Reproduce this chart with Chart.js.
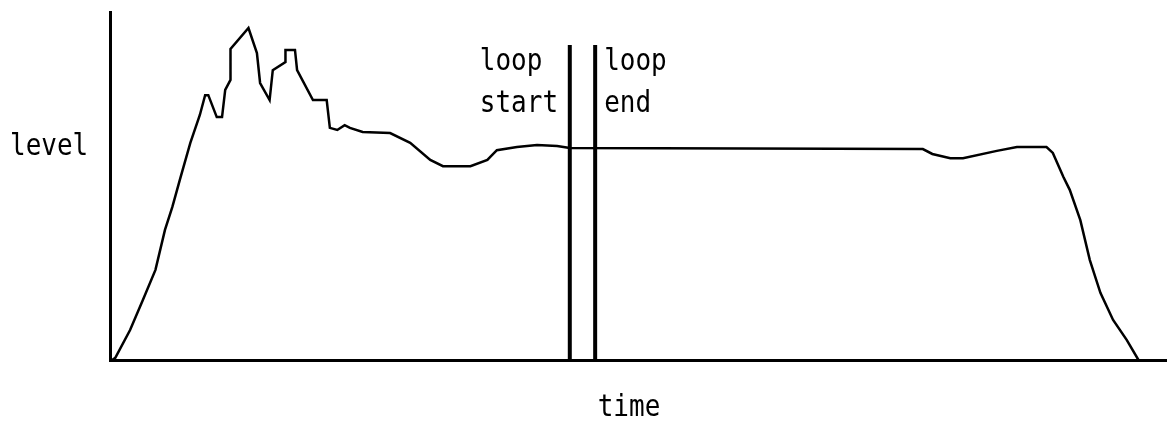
<!DOCTYPE html>
<html>
<head>
<meta charset="utf-8">
<script src="https://cdn.jsdelivr.net/npm/chart.js@4"></script>
<style>
  html, body { margin: 0; padding: 0; background: #fff; }
  #wrap { width: 1167px; height: 424px; position: relative; }
</style>
</head>
<body>
<div id="wrap"><canvas id="myChart"></canvas></div>
<script>
// envelope of the sound level over time (arbitrary units, 0-100)
const timeValues = [0.2, 0.5, 1.9, 3.1, 4.3, 5.2, 5.9, 6.6, 7.6, 8.5, 9.0, 9.3, 10.1, 10.6, 10.9, 11.4, 11.4,
    13.1, 13.9, 14.2, 15.1, 15.4, 16.6, 16.6, 17.5, 17.7, 19.2, 20.5, 20.8, 21.5, 22.2, 22.7, 23.9,
    26.5, 28.4, 30.3, 31.5, 34.1, 35.7, 36.6, 38.5, 40.4, 42.3, 43.5, 76.9, 77.8, 79.5, 80.7, 83.9,
    85.8, 88.6, 89.2, 90.2, 90.8, 91.8, 92.7, 93.7, 94.9, 96.2, 97.3];
const levelValues = [0, 0.6, 8.6, 17.2, 25.9, 37.4, 44.0, 51.7, 62.4, 70.4, 76.1, 76.1, 69.8, 69.8, 77.6, 80.5, 89.4,
    95.4, 88.2, 79.6, 74.7, 83.3, 85.6, 89.1, 89.1, 83.3, 74.7, 74.7, 66.7, 66.1, 67.5, 66.7, 65.5,
    65.2, 62.4, 57.5, 55.7, 55.7, 57.5, 60.3, 61.2, 61.8, 61.5, 60.9, 60.6, 59.2, 58.0, 58.0, 60.1,
    61.2, 61.2, 59.5, 52.6, 48.9, 40.2, 28.7, 19.3, 11.5, 5.7, 0];

// loop markers
const loopStart = 43.5;
const loopEnd = 45.9;
const markerTop = 90.5;

const envelope = timeValues.map((t, i) => ({ x: t, y: levelValues[i] }));

// labels are drawn a bit taller than the font's natural shape
const stretch = 1.18;

function tallText(ctx, text, x, y) {
    ctx.save();
    ctx.translate(x, y);
    ctx.scale(1, stretch);
    ctx.fillText(text, 0, 0);
    ctx.restore();
}

const textLabels = {
    id: 'textLabels',
    afterDraw(chart) {
        const ctx = chart.ctx;
        const xs = chart.scales.x;
        ctx.save();
        ctx.fillStyle = '#000';
        ctx.font = '26px "DejaVu Sans Mono"';
        ctx.textBaseline = 'alphabetic';
        ctx.textAlign = 'left';
        tallText(ctx, 'level', 10, 155);
        const xs0 = xs.getPixelForValue(loopStart);
        const xs1 = xs.getPixelForValue(loopEnd);
        tallText(ctx, 'loop', xs0 - 90, 70);
        tallText(ctx, 'start', xs0 - 90, 112);
        tallText(ctx, 'loop', xs1 + 9, 70);
        tallText(ctx, 'end', xs1 + 9, 112);
        ctx.textAlign = 'center';
        tallText(ctx, 'time', 629, 416);
        ctx.restore();
    }
};

let ctx = document.getElementById('myChart').getContext('2d');
let myChart = new Chart(ctx, {
    type: 'line',
    data: {
        datasets: [
            {
                data: envelope,
                borderColor: '#000',
                borderWidth: 2.5,
                pointRadius: 0,
                tension: 0,
            },
            {
                data: [{ x: loopStart, y: 0 }, { x: loopStart, y: markerTop }],
                borderColor: '#000',
                borderWidth: 4,
                pointRadius: 0,
            },
            {
                data: [{ x: loopEnd, y: 0 }, { x: loopEnd, y: markerTop }],
                borderColor: '#000',
                borderWidth: 4,
                pointRadius: 0,
            },
        ],
    },
    options: {
        responsive: true,
        maintainAspectRatio: false,
        animation: false,
        layout: { padding: { left: 102, right: 0, top: 12, bottom: 56 } },
        plugins: { legend: { display: false }, tooltip: { enabled: false } },
        scales: {
            x: {
                type: 'linear',
                min: 0,
                max: 100,
                grid: { display: false },
                ticks: { display: false },
                border: { display: true, color: '#000', width: 3 },
            },
            y: {
                min: 0,
                max: 100,
                grid: { display: false },
                ticks: { display: false },
                border: { display: true, color: '#000', width: 3 },
            },
        },
    },
    plugins: [textLabels],
});
</script>
</body>
</html>
